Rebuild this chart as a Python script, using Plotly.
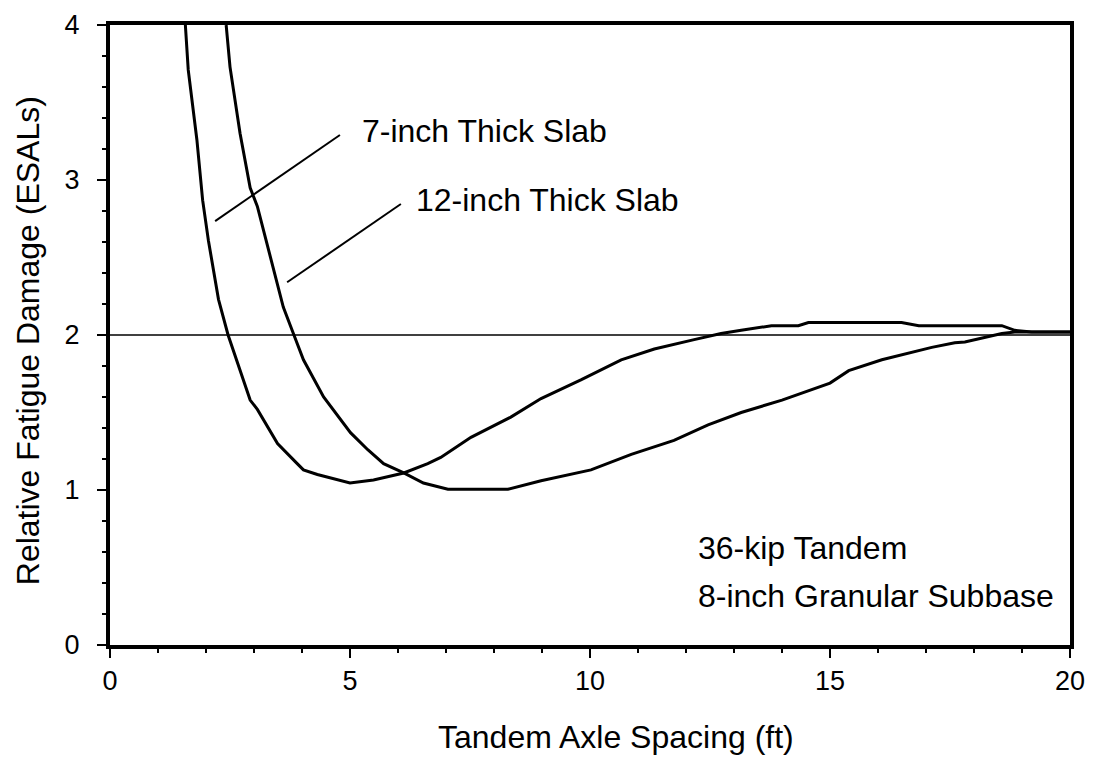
import plotly.graph_objects as go

# 7-inch thick slab
x7 = [1.57, 1.63, 1.81, 1.93, 2.05, 2.26, 2.46, 2.92, 3.07, 3.49, 3.9, 4.03, 4.32, 5.0, 5.49,
      6.12, 6.62, 6.89, 7.52, 8.35, 8.98, 9.81, 10.65, 11.34, 12.17, 12.73, 13.15, 13.78,
      14.34, 14.55, 16.49, 16.85, 18.58, 18.85, 19.2, 20.0]
y7 = [4.0, 3.71, 3.26, 2.87, 2.61, 2.23, 2.0, 1.58, 1.52, 1.30, 1.17, 1.13, 1.10, 1.045, 1.065,
      1.11, 1.17, 1.21, 1.34, 1.47, 1.59, 1.71, 1.84, 1.91, 1.97, 2.01, 2.03, 2.06,
      2.06, 2.08, 2.08, 2.06, 2.06, 2.03, 2.02, 2.02]

# 12-inch thick slab
x12 = [2.42, 2.5, 2.71, 2.92, 3.07, 3.28, 3.49, 3.61, 3.82, 4.03, 4.45, 5.01, 5.37, 5.70,
       6.12, 6.53, 7.04, 8.29, 8.98, 10.02, 10.86, 11.75, 12.46, 13.15, 14.0, 15.0, 15.39,
       16.08, 17.12, 17.6, 17.81, 18.58, 18.85, 20.0]
y12 = [4.0, 3.73, 3.30, 2.95, 2.83, 2.57, 2.31, 2.18, 2.01, 1.84, 1.60, 1.37, 1.26, 1.17,
       1.11, 1.045, 1.005, 1.005, 1.06, 1.13, 1.23, 1.32, 1.42, 1.50, 1.58, 1.69, 1.77,
       1.84, 1.92, 1.95, 1.955, 2.01, 2.02, 2.02]

ref_x = [0, 20]
ref_y = [2, 2]

x_ticks = [0, 5, 10, 15, 20]
y_ticks = [0, 1, 2, 3, 4]

FONT = "Liberation Sans, Arial, Helvetica, sans-serif"
TICK = 27
ANN = 32
TITLE = 32

fig = go.Figure()
fig.add_trace(go.Scatter(x=ref_x, y=ref_y, mode="lines",
                         line=dict(color="black", width=1.5), showlegend=False))
fig.add_trace(go.Scatter(x=x7, y=y7, mode="lines", name="7-inch Thick Slab",
                         line=dict(color="black", width=3), showlegend=False))
fig.add_trace(go.Scatter(x=x12, y=y12, mode="lines", name="12-inch Thick Slab",
                         line=dict(color="black", width=3), showlegend=False))

# leader lines for labels
fig.add_shape(type="line", x0=2.19, y0=2.735, x1=4.79, y1=3.29,
              line=dict(color="black", width=2), xref="x", yref="y")
fig.add_shape(type="line", x0=3.69, y0=2.34, x1=6.06, y1=2.845,
              line=dict(color="black", width=2), xref="x", yref="y")

fig.add_annotation(x=5.2, y=3.316, text="7-inch Thick Slab", showarrow=False,
                   xanchor="left", yanchor="middle", font=dict(size=ANN, color="black", family=FONT))
fig.add_annotation(x=6.33, y=2.87, text="12-inch Thick Slab", showarrow=False,
                   xanchor="left", yanchor="middle", font=dict(size=ANN, color="black", family=FONT))
fig.add_annotation(x=12.2, y=0.626, text="36-kip Tandem", showarrow=False,
                   xanchor="left", yanchor="middle", font=dict(size=ANN, color="black", family=FONT))
fig.add_annotation(x=12.2, y=0.316, text="8-inch Granular Subbase", showarrow=False,
                   xanchor="left", yanchor="middle", font=dict(size=ANN, color="black", family=FONT))

# axis titles
fig.add_annotation(x=0.527, y=-0.149, xref="paper", yref="paper", text="Tandem Axle Spacing (ft)",
                   showarrow=False, xanchor="center", yanchor="middle",
                   font=dict(size=TITLE, color="black", family=FONT))
fig.add_annotation(x=-0.0854, y=0.49, xref="paper", yref="paper", text="Relative Fatigue Damage (ESALs)",
                   showarrow=False, xanchor="center", yanchor="middle", textangle=-90,
                   font=dict(size=TITLE, color="black", family=FONT))

fig.update_xaxes(range=[0, 20], tickvals=x_ticks, ticktext=[str(v) for v in x_ticks],
                 showgrid=False, zeroline=False, showline=True, linewidth=4, linecolor="black",
                 mirror=True, ticks="outside", ticklen=9, tickwidth=2, tickcolor="black",
                 minor=dict(dtick=1, ticks="outside", ticklen=4, tickwidth=2, tickcolor="black"),
                 tickfont=dict(size=TICK, color="black", family=FONT), automargin=False)
fig.update_yaxes(range=[0, 4], tickvals=y_ticks, ticktext=[str(v) for v in y_ticks],
                 showgrid=False, zeroline=False, showline=True, linewidth=4, linecolor="black",
                 mirror=True, ticks="outside", ticklen=9, tickwidth=2, tickcolor="black",
                 minor=dict(dtick=0.2, ticks="outside", ticklen=4, tickwidth=2, tickcolor="black"),
                 tickfont=dict(size=TICK, color="black", family=FONT), ticklabelstandoff=12,
                 automargin=False)

# the page body adds an 8px offset, so the figure is 8px smaller and margins shifted
fig.update_layout(width=1085, height=750, plot_bgcolor="white", paper_bgcolor="white",
                  margin=dict(l=102, r=23, t=17, b=113), showlegend=False,
                  font=dict(family=FONT, color="black"))

fig.write_html("out.html")
